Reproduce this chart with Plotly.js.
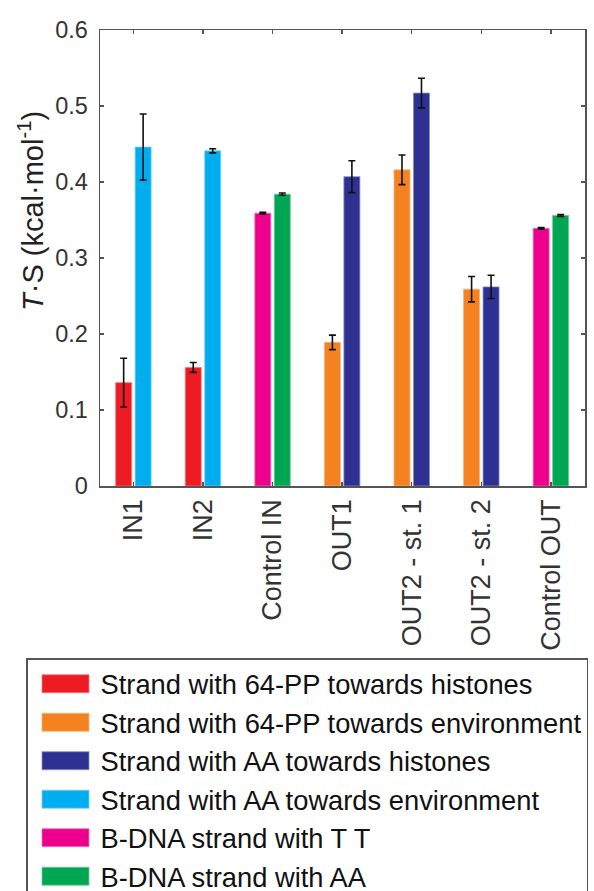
<!DOCTYPE html>
<html>
<head>
<meta charset="utf-8">
<script src="https://cdn.plot.ly/plotly-3.0.1.min.js"></script>
<style>
  html, body { margin: 0; padding: 0; background: #fff; }
  #chart { width: 594px; height: 891px; }
</style>
</head>
<body>
<div id="chart"></div>
<script>
// ---- data ----
const categories = ['IN1', 'IN2', 'Control IN', 'OUT1', 'OUT2 - st. 1', 'OUT2 - st. 2', 'Control OUT'];

const seriesNames = [
  'Strand with 64-PP towards histones',
  'Strand with 64-PP towards environment',
  'Strand with AA towards histones',
  'Strand with AA towards environment',
  'B-DNA strand with T T',
  'B-DNA strand with AA'
];

const pp64HistX = ['IN1', 'IN2'];
const pp64HistY = [0.136, 0.156];
const pp64HistErr = [0.032, 0.0065];

const pp64EnvX = ['OUT1', 'OUT2 - st. 1', 'OUT2 - st. 2'];
const pp64EnvY = [0.189, 0.416, 0.259];
const pp64EnvErr = [0.0095, 0.0195, 0.0167];

const aaHistX = ['OUT1', 'OUT2 - st. 1', 'OUT2 - st. 2'];
const aaHistY = [0.407, 0.517, 0.262];
const aaHistErr = [0.021, 0.0195, 0.0153];

const aaEnvX = ['IN1', 'IN2'];
const aaEnvY = [0.446, 0.441];
const aaEnvErr = [0.0435, 0.0027];

const bTTX = ['Control IN', 'Control OUT'];
const bTTY = [0.359, 0.339];
const bTTErr = [0.001, 0.001];

const bAAX = ['Control IN', 'Control OUT'];
const bAAY = [0.384, 0.356];
const bAAErr = [0.0015, 0.0012];

const yTickVals = [0, 0.1, 0.2, 0.3, 0.4, 0.5, 0.6];
const yTickText = ['0', '0.1', '0.2', '0.3', '0.4', '0.5', '0.6'];

const yTitle = '<i>T</i>·S (kcal·mol<sup>-1</sup>)';

// ---- styling ----
const FONT = 'Liberation Sans, Arial, Helvetica, sans-serif';
const colors = ['#ED1C24', '#F58220', '#2E3192', '#00AEEF', '#EC008C', '#00A651'];
const edge = ['#F5777B', '#F9B47A', '#8A8CC4', '#73D0F5', '#F473BB', '#6FCB96'];
const LEFT = -0.255, RIGHT = 0.025, BW = 0.23;

function barTrace(i, x, y, err, offset) {
  return {
    type: 'bar',
    name: seriesNames[i],
    x: x, y: y,
    offset: offset, width: BW,
    marker: { color: colors[i], line: { color: edge[i], width: 0.8 } },
    error_y: { type: 'data', array: err, visible: true, color: '#111', thickness: 1.6, width: 3.5 },
    hoverinfo: 'x+y'
  };
}

const data = [
  barTrace(0, pp64HistX, pp64HistY, pp64HistErr, LEFT),
  barTrace(1, pp64EnvX, pp64EnvY, pp64EnvErr, LEFT),
  barTrace(2, aaHistX, aaHistY, aaHistErr, RIGHT),
  barTrace(3, aaEnvX, aaEnvY, aaEnvErr, RIGHT),
  barTrace(4, bTTX, bTTY, bTTErr, LEFT),
  barTrace(5, bAAX, bAAY, bAAErr, RIGHT)
];

const layout = {
  width: 594, height: 891,
  margin: { l: 100, r: 9, t: 30, b: 405, pad: 0, autoexpand: false },
  paper_bgcolor: '#fff', plot_bgcolor: '#fff',
  barmode: 'overlay',
  font: { family: FONT, color: '#222' },
  showlegend: true,
  xaxis: {
    type: 'category',
    categoryorder: 'array', categoryarray: categories,
    range: [-0.48, 6.49],
    showline: true, linecolor: '#555', linewidth: 1.5, mirror: 'ticks',
    ticks: 'inside', ticklen: 4, tickwidth: 1.3, tickcolor: '#555',
    tickangle: -90, ticklabelstandoff: 1,
    tickfont: { family: FONT, size: 27, color: '#333' },
    showgrid: false, zeroline: false, fixedrange: true, automargin: false
  },
  yaxis: {
    range: [0, 0.6],
    tickvals: yTickVals, ticktext: yTickText,
    showline: true, linecolor: '#555', linewidth: 1.5, mirror: 'ticks',
    ticks: 'inside', ticklen: 4, tickwidth: 1.3, tickcolor: '#555',
    ticklabelstandoff: 6,
    tickfont: { family: FONT, size: 23.5, color: '#333' },
    showgrid: false, zeroline: false, fixedrange: true, automargin: false
  },
  annotations: [{
    text: yTitle, textangle: -90,
    xref: 'paper', yref: 'paper',
    x: (31 - 100) / 485, y: (486 - 211) / 456,
    xanchor: 'center', yanchor: 'middle', showarrow: false,
    font: { family: FONT, size: 29, color: '#222' }
  }],
  legend: {
    xref: 'container', yref: 'container',
    x: 26 / 594, y: 1 - 658 / 891,
    xanchor: 'left', yanchor: 'top',
    bgcolor: '#fff', bordercolor: '#555', borderwidth: 1.5,
    font: { family: FONT, size: 27.3, color: '#111' },
    itemwidth: 63, traceorder: 'normal', tracegroupgap: 0
  }
};

Plotly.newPlot('chart', data, layout, { displayModeBar: false, staticPlot: true }).then(function () {
  // enlarge the legend swatches to the wide rectangles of the reference
  document.querySelectorAll('.legend .legendpoints path').forEach(function (p) {
    p.setAttribute('d', 'M-22,-9H25V9H-22Z');
  });
});
</script>
</body>
</html>
